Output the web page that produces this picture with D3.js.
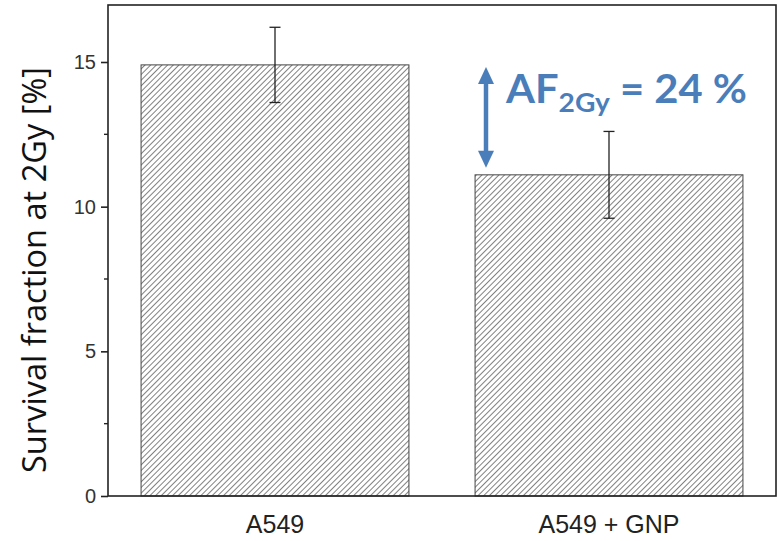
<!DOCTYPE html>
<html>
<head>
<meta charset="utf-8">
<script src="https://cdn.jsdelivr.net/npm/d3@7"></script>
<style>
  body { margin: 0; background: #fff; }
  svg { display: block; }
</style>
</head>
<body>
<div id="chart"></div>
<script>
// values
const groups = ["A549", "A549 + GNP"];
const survival = [14.9, 11.1];
const errors = [1.3, 1.5];
const yTicks = [0, 5, 10, 15];
const yMinor = [2.5, 7.5, 12.5];
const afLabel = { main: "AF", sub: "2Gy", rest: " = 24 %" };

var width = 778, height = 541;
var margin = { top: 5, right: 2, bottom: 45, left: 108 };

const svg = d3.select("#chart").append("svg")
    .attr("width", width)
    .attr("height", height);

// hatch for the bars
const defs = svg.append("defs");
const pat = defs.append("pattern")
    .attr("id", "hatch")
    .attr("patternUnits", "userSpaceOnUse")
    .attr("width", 4)
    .attr("height", 4)
    .attr("patternTransform", "rotate(45)");
pat.append("rect").attr("width", 4).attr("height", 4).attr("fill", "#fff");
pat.append("line")
    .attr("x1", 0).attr("y1", 0).attr("x2", 0).attr("y2", 4)
    .attr("stroke", "#4a4a4a").attr("stroke-width", 1.4);

const x = d3.scaleBand()
    .domain(groups)
    .range([margin.left, width - margin.right])
    .paddingInner(0.198)
    .paddingOuter(0.099);

const y = d3.scaleLinear()
    .domain([0, 16.97])
    .range([height - margin.bottom, margin.top]);

const data = groups.map((g, i) => ({ name: g, v: survival[i], e: errors[i] }));

// bars
svg.append("g")
  .selectAll("rect")
  .data(data)
  .join("rect")
    .attr("x", d => x(d.name))
    .attr("y", d => y(d.v))
    .attr("width", x.bandwidth())
    .attr("height", d => y(0) - y(d.v))
    .attr("fill", "url(#hatch)")
    .attr("stroke", "#444")
    .attr("stroke-width", 1);

// error bars
const eb = svg.append("g").attr("stroke", "#222").attr("stroke-width", 1.3);
data.forEach(d => {
  const cx = x(d.name) + x.bandwidth() / 2;
  eb.append("line").attr("x1", cx).attr("x2", cx).attr("y1", y(d.v + d.e)).attr("y2", y(d.v - d.e));
  eb.append("line").attr("x1", cx - 5.5).attr("x2", cx + 5.5).attr("y1", y(d.v + d.e)).attr("y2", y(d.v + d.e));
  eb.append("line").attr("x1", cx - 5.5).attr("x2", cx + 5.5).attr("y1", y(d.v - d.e)).attr("y2", y(d.v - d.e));
});

// frame
svg.append("rect")
    .attr("x", margin.left)
    .attr("y", margin.top)
    .attr("width", width - margin.right - margin.left)
    .attr("height", height - margin.bottom - margin.top)
    .attr("fill", "none")
    .attr("stroke", "#222")
    .attr("stroke-width", 1.6);

// y axis
const yAxis = svg.append("g")
    .attr("transform", `translate(${margin.left},0)`)
    .call(d3.axisLeft(y).tickValues(yTicks).tickSize(7).tickPadding(5).tickFormat(d3.format("d")));
yAxis.select(".domain").remove();
yAxis.selectAll(".tick line").attr("stroke", "#222").attr("stroke-width", 1.6);
yAxis.selectAll("text")
    .attr("font-family", "Liberation Sans, Arial, sans-serif")
    .attr("font-size", 20)
    .attr("fill", "#333");

svg.append("g")
  .selectAll("line")
  .data(yMinor)
  .join("line")
    .attr("x1", margin.left - 4).attr("x2", margin.left)
    .attr("y1", d => y(d)).attr("y2", d => y(d))
    .attr("stroke", "#222").attr("stroke-width", 1.4);

// x labels
svg.append("g")
  .selectAll("text")
  .data(groups)
  .join("text")
    .attr("x", d => x(d) + x.bandwidth() / 2)
    .attr("y", 533)
    .attr("text-anchor", "middle")
    .attr("font-family", "Liberation Sans, Arial, sans-serif")
    .attr("font-size", 25)
    .attr("fill", "#222")
    .text(d => d);

// y title
svg.append("text")
    .attr("transform", "translate(46,270) rotate(-90)")
    .attr("text-anchor", "middle")
    .attr("font-family", "Open Sans, sans-serif")
    .attr("font-size", 33)
    .attr("textLength", 406)
    .attr("lengthAdjust", "spacingAndGlyphs")
    .attr("fill", "#111")
    .text("Survival fraction at 2Gy [%]");

// AF annotation
const blue = "#4a7ebb";
const ax = 486, aTop = y(survival[0]) + 2, aBot = y(survival[1]) - 7;
svg.append("line")
    .attr("x1", ax).attr("x2", ax)
    .attr("y1", aTop + 14).attr("y2", aBot - 14)
    .attr("stroke", blue).attr("stroke-width", 4.5);
svg.append("path")
    .attr("d", `M${ax},${aTop} L${ax + 8},${aTop + 17} L${ax - 8},${aTop + 17} Z`)
    .attr("fill", blue);
svg.append("path")
    .attr("d", `M${ax},${aBot} L${ax + 8},${aBot - 17} L${ax - 8},${aBot - 17} Z`)
    .attr("fill", blue);

const af = svg.append("text")
    .attr("x", 506)
    .attr("y", 103)
    .attr("font-family", "Lato, Open Sans, sans-serif")
    .attr("font-weight", "bold")
    .attr("font-size", 40)
    .attr("textLength", 241)
    .attr("lengthAdjust", "spacingAndGlyphs")
    .attr("fill", blue);
af.append("tspan").text(afLabel.main);
af.append("tspan").attr("font-size", 27).attr("dy", 9).text(afLabel.sub);
af.append("tspan").attr("dy", -9).text(afLabel.rest);
</script>
</body>
</html>
